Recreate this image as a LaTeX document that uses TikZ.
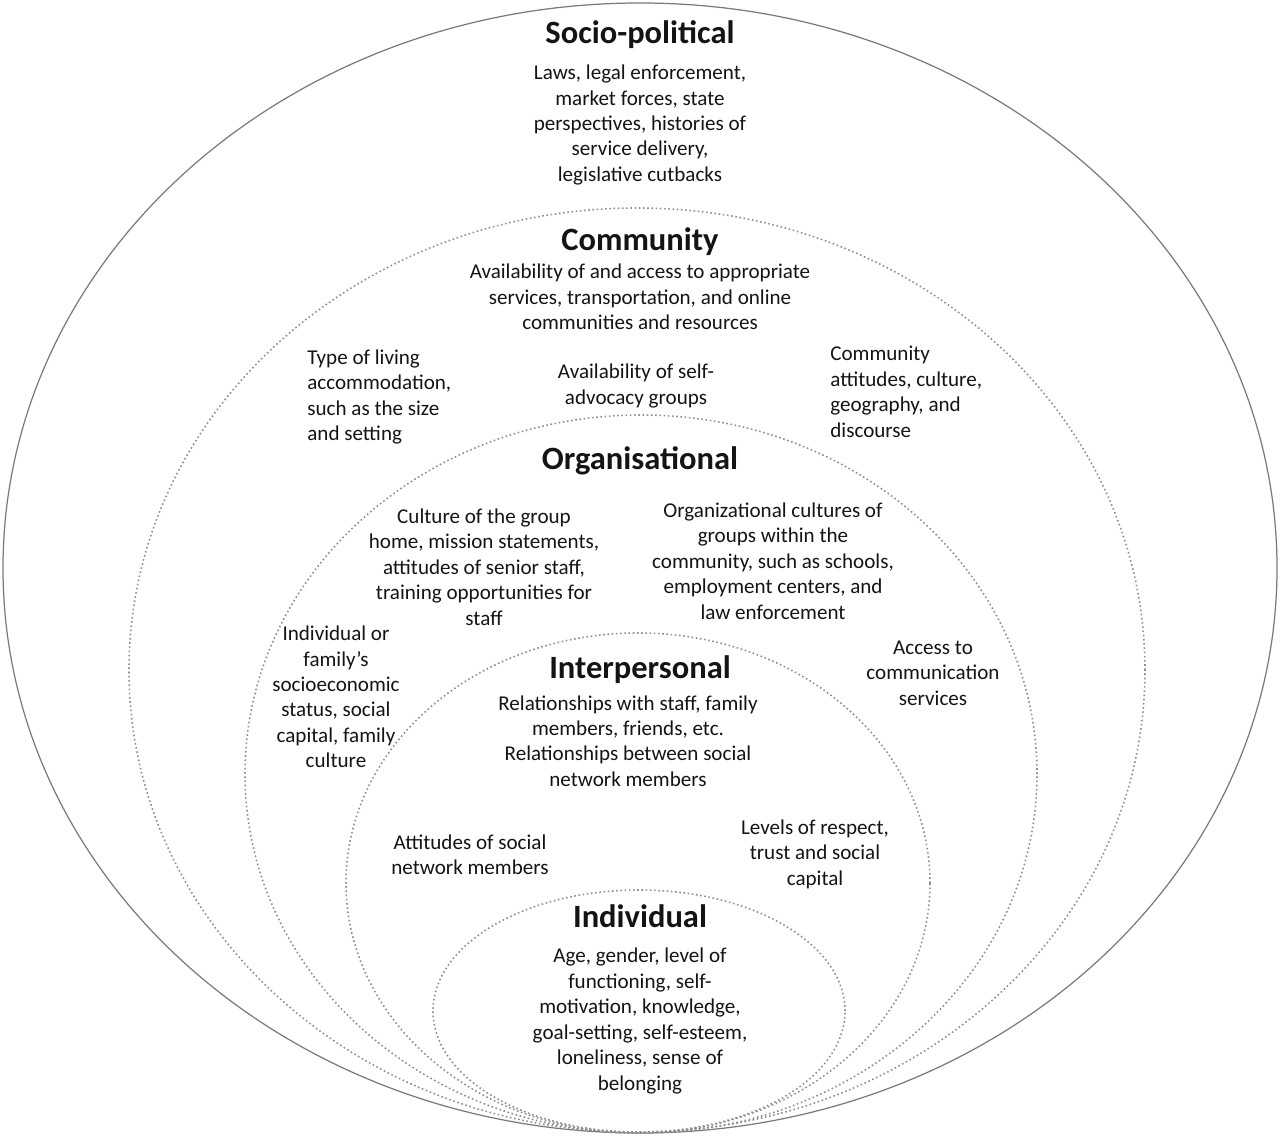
\documentclass[tikz,border=0pt]{standalone}
\usepackage{fontspec}
\setmainfont{Carlito}
\usepackage{tikz}
\usetikzlibrary{positioning}
\definecolor{ringGray}{HTML}{7A7A7A}
\definecolor{txtDark}{HTML}{141414}

\begin{document}
\begin{tikzpicture}[
  x=0.02cm,y=0.02cm,
  ring/.style={draw=ringGray,line width=0.7pt},
  dotring/.style={draw=ringGray!85,line width=0.9pt,dash pattern=on 0.9pt off 1.5pt},
  level/.style={inner sep=0pt,text=txtDark,font=\fontsize{18.5}{22}\selectfont\bfseries},
  desc/.style={inner sep=0pt,text=txtDark,align=center,font=\fontsize{12}{14.5}\selectfont},
  descl/.style={desc,align=left}
]
\useasboundingbox (0,0) rectangle (1280,-1135);
% nested levels, all touching at the bottom
\draw[ring] (640,-568) ellipse [x radius=637,y radius=565];
\draw[dotring] (637,-670) ellipse [x radius=508,y radius=462];
\draw[dotring] (641,-774) ellipse [x radius=396,y radius=359];
\draw[dotring] (638,-883) ellipse [x radius=292,y radius=250];
\draw[dotring] (639,-1011) ellipse [x radius=206,y radius=121];

% socio-political
\node[level] (socio) at (640,-35) {Socio-political};
\node[desc] (sociotxt) at (640,-125) {Laws, legal enforcement,\\market forces, state\\perspectives, histories of\\service delivery,\\legislative cutbacks};

% community
\node[level] (comm) at (640,-242) {Community};
\node[desc] (commtxt) at (640,-297) {Availability of and access to appropriate\\services, transportation, and online\\communities and resources};
\node[descl,anchor=west] (living) at (307,-397) {Type of living\\accommodation,\\such as the size\\and setting};
\node[desc] (advocacy) at (636,-386) {Availability of self-\\advocacy groups};
\node[descl,anchor=west] (attitudes) at (830,-392) {Community\\attitudes, culture,\\geography, and\\discourse};

% organisational
\node[level] (org) at (640,-461) {Organisational};
\node[desc] (grouphome) at (484,-567) {Culture of the group\\home, mission statements,\\attitudes of senior staff,\\training opportunities for\\staff};
\node[desc] (orgcult) at (773,-561) {Organizational cultures of\\groups within the\\community, such as schools,\\employment centers, and\\law enforcement};
\node[desc] (ses) at (336,-697) {Individual or\\family’s\\socioeconomic\\status, social\\capital, family\\culture};
\node[desc] (access) at (933,-673) {Access to\\communication\\services};

% interpersonal
\node[level] (inter) at (640,-670) {Interpersonal};
\node[desc] (relations) at (628,-741) {Relationships with staff, family\\members, friends, etc.\\Relationships between social\\network members};
\node[desc] (netatt) at (470,-855) {Attitudes of social\\network members};
\node[desc] (respect) at (815,-854) {Levels of respect,\\trust and social\\capital};

% individual
\node[level] (indiv) at (640,-916) {Individual};
\node[desc] (indivtxt) at (640,-1021) {Age, gender, level of\\functioning, self-\\motivation, knowledge,\\goal-setting, self-esteem,\\loneliness, sense of\\belonging};
\end{tikzpicture}
\end{document}
